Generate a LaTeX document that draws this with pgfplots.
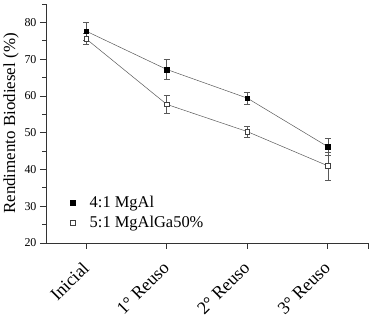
\documentclass[border=0pt]{standalone}
\usepackage{pgfplots}
\pgfplotsset{compat=1.18}
\usepackage{fontspec}
\setmainfont{Liberation Serif}
\begin{document}
\begin{tikzpicture}
\begin{axis}[
  scale only axis,
  width=322bp, height=239bp,
  xmin=-0.5, xmax=3.5,
  ymin=20, ymax=85,
  axis lines=left,
  axis line style={-, black!80, line width=0.8pt},
  xtick={0,1,2,3},
  xticklabels={Inicial,1° Reuso,2° Reuso,3° Reuso},
  extra x ticks={3.5},
  extra x tick labels={},
  ytick={20,30,40,50,60,70,80},
  minor ytick={25,35,45,55,65,75,85},
  tick align=outside,
  tick pos=left,
  major tick length=6bp,
  minor tick length=3.5bp,
  tick style={black!80, line width=0.7pt},
  xticklabel style={yshift=-10bp, xshift=-5bp, rotate=45, anchor=north east, font=\fontsize{18}{20}\selectfont, inner sep=1bp},
  yticklabel style={font=\fontsize{12}{14}\selectfont},
  /pgf/number format/assume math mode=true,
  ylabel={Rendimento Biodiesel (\%)},
  ylabel style={font=\fontsize{17}{19}\selectfont, yshift=-1bp},
  legend style={at={(rel axis cs:0.07,0.21)}, anchor=north west, draw=none, fill=none,
    font=\fontsize{16.5}{19}\selectfont, row sep=3.5bp, inner sep=1bp,
    nodes={inner xsep=4bp}},
  legend image code/.code={\draw[#1] plot coordinates {(0cm,0cm)}; \path (-0.1cm,0cm) (0.45cm,0cm);},
  legend cell align=left,
  clip=false,
]
% lines with error bars
\addplot[forget plot, gray!70!black, line width=0.5pt,
  error bars/.cd, y dir=both, y explicit,
  error bar style={gray!70!black, line width=0.5pt},
  error mark options={rotate=90, mark size=3bp, gray!70!black}]
  coordinates {(0,77.6) +- (0,2.4) (1,67.2) +- (0,2.7) (2,59.4) +- (0,1.6) (3,46.2) +- (0,2.2)};
\addplot[forget plot, gray!70!black, line width=0.5pt,
  error bars/.cd, y dir=both, y explicit,
  error bar style={gray!70!black, line width=0.5pt},
  error mark options={rotate=90, mark size=3bp, gray!70!black}]
  coordinates {(0,75.5) +- (0,1.5) (1,57.7) +- (0,2.5) (2,50.3) +- (0,1.6) (3,41.0) +- (0,3.8)};
% markers
\addplot[only marks, mark=square*, mark size=2.4bp, mark options={fill=black, draw=black}]
  coordinates {(0,77.6) (1,67.2) (2,59.4) (3,46.2)};
\addlegendentry{4:1 MgAl}
\addplot[only marks, mark=square*, mark size=2.4bp, mark options={fill=white, draw=black!75, line width=0.6pt}]
  coordinates {(0,75.5) (1,57.7) (2,50.3) (3,41.0)};
\addlegendentry{5:1 MgAlGa50\%}
\path (rel axis cs:1,0) ++(6bp,0bp);
\path (rel axis cs:0,1) ++(0bp,4bp);
\end{axis}
\end{tikzpicture}
\end{document}
